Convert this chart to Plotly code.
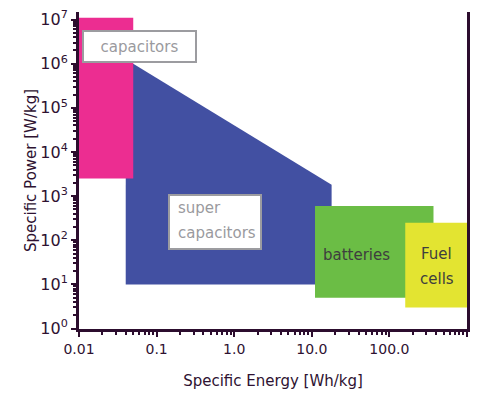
import plotly.graph_objects as go

# Ragone chart: specific power vs specific energy of storage technologies
cap_energy = [0.01, 0.05, 0.05, 0.01]          # Wh/kg
cap_power = [1.1e7, 1.1e7, 2500, 2500]         # W/kg

sc_energy = [0.04, 0.04, 0.05, 18, 18]
sc_power = [10, 1e6, 1e6, 1800, 10]

bat_energy = [11, 370, 370, 11]
bat_power = [5, 5, 600, 600]

fc_energy = [160, 1000, 1000, 160]
fc_power = [3, 3, 250, 250]

x_tickvals = [0.01, 0.1, 1, 10, 100, 1000]
x_ticktext = ["0.01", "0.1", "1.0", "10.0", "100.0", "1000.0"]
y_exponents = [0, 1, 2, 3, 4, 5, 6, 7]

FONT = "DejaVu Sans"
AXIS_COLOR = "#2c0d2e"
TEXT_COLOR = "#2e1231"
BOX_TEXT = "#9a9a9e"
DARK_TEXT = "#3e3e3e"

fig = go.Figure()

regions = [
    (sc_energy, sc_power, "#4250a2"),
    (cap_energy, cap_power, "#ec2d91"),
    (bat_energy, bat_power, "#6bbd45"),
    (fc_energy, fc_power, "#e3e431"),
]
for xs, ys, color in regions:
    fig.add_trace(go.Scatter(
        x=xs + xs[:1], y=ys + ys[:1], mode="lines", fill="toself",
        fillcolor=color, line=dict(width=0, color=color),
        hoverinfo="skip", showlegend=False,
    ))


def label(x, y, text, color, size=15, **kw):
    # x, y are given in log10 units, as plotly expects on log axes
    fig.add_annotation(x=x, y=y, xref="x", yref="y", text=text,
                       showarrow=False,
                       font=dict(family=FONT, size=size, color=color), **kw)


# framed labels
label(-1.22, 6.40, "capacitors", BOX_TEXT, bgcolor="white",
      bordercolor="#9c9ca0", borderwidth=2, borderpad=0, width=111, height=29)
label(-0.247, 2.41, " ", BOX_TEXT, bgcolor="white",
      bordercolor="#9c9ca0", borderwidth=2, borderpad=0, width=90, height=52)
label(-0.75, 2.72, "super", BOX_TEXT, xanchor="left")
label(-0.75, 2.16, "capacitors", BOX_TEXT, xanchor="left")

# plain labels
label(1.58, 1.67, "batteries", DARK_TEXT)
label(2.61, 1.69, "Fuel", DARK_TEXT)
label(2.61, 1.13, "cells", DARK_TEXT)

fig.update_layout(
    width=481, height=395,
    margin=dict(l=79, r=14, t=8, b=66),
    paper_bgcolor="white", plot_bgcolor="white",
    font=dict(family=FONT, size=14, color=TEXT_COLOR),
    showlegend=False,
)
fig.update_xaxes(
    type="log", range=[-2, 3],
    tickvals=x_tickvals, ticktext=x_ticktext,
    tickfont=dict(size=14, color=TEXT_COLOR),
    showgrid=False, zeroline=False,
    showline=True, linecolor=AXIS_COLOR, linewidth=3,
    ticks="outside", ticklen=5, tickwidth=2, tickcolor=AXIS_COLOR,
    minor=dict(ticks="outside", ticklen=3, tickwidth=1.5,
               tickcolor=AXIS_COLOR, dtick="D1", showgrid=False),
    title=dict(text="Specific Energy [Wh/kg]", standoff=20,
               font=dict(size=15, color=TEXT_COLOR)),
)
fig.update_yaxes(
    type="log", range=[-0.01, 7.17],
    tickvals=[10 ** e for e in y_exponents],
    ticktext=[f"10<sup>{e}</sup>" for e in y_exponents],
    tickfont=dict(size=16, color=TEXT_COLOR),
    showgrid=False, zeroline=False,
    showline=True, linecolor=AXIS_COLOR, linewidth=3, mirror=True,
    ticks="outside", ticklen=5, tickwidth=2, tickcolor=AXIS_COLOR,
    minor=dict(ticks="outside", ticklen=3, tickwidth=1.5,
               tickcolor=AXIS_COLOR, dtick="D1", showgrid=False),
    title=dict(text="Specific Power [W/kg]", standoff=0,
               font=dict(size=15, color=TEXT_COLOR)),
)

fig.write_html("out.html")
